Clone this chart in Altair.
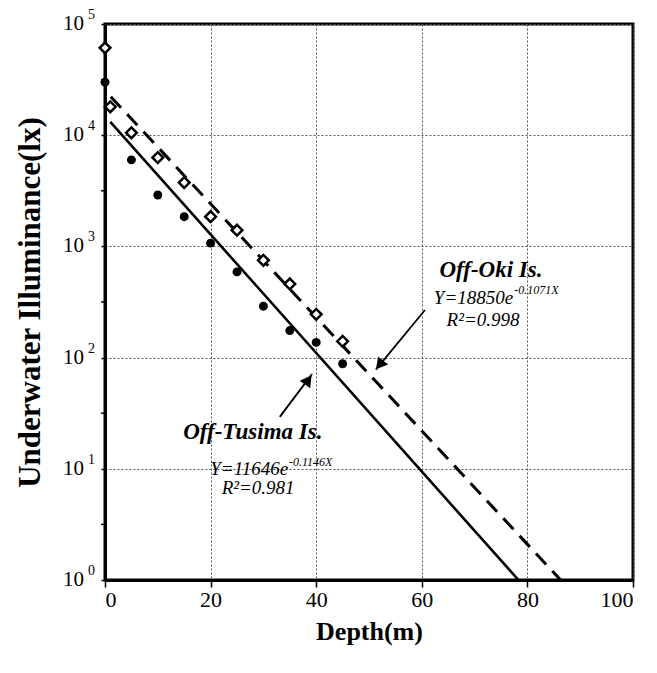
import altair as alt
import pandas as pd

# ---- data ----
tusima_depth = [0, 5, 10, 15, 20, 25, 30, 35, 40, 45]
tusima_lux = [30000, 6000, 2900, 1850, 1070, 590, 290, 175, 137, 88]

oki_depth = [0, 1, 5, 10, 15, 20, 25, 30, 35, 40, 45]
oki_lux = [61000, 18000, 10500, 6300, 3750, 1850, 1400, 750, 460, 245, 140]

tusima_fit_depth = [1.0, 78.3]
tusima_fit_lux = [13200, 1]
oki_fit_depth = [1.1, 86.3]
oki_fit_lux = [22200, 1]

x_ticks = [0, 20, 40, 60, 80, 100]
y_ticks = [1, 10, 100, 1000, 10000, 100000]
y_tick_base = ["10"] * 6
y_tick_exp = ["0", "1", "2", "3", "4", "5"]
y_minor = [3.162, 31.62, 316.2, 3162, 31623]

# annotations (data space)
label_names = ["Off-Oki Is.", "Off-Tusima Is."]
label_depth = [73.1, 28.0]
label_lux = [614, 21.4]

eq_main = ["Y=18850e", "Y=11646e"]
eq_main_depth = [77.3, 34.7]
eq_main_lux = [343.6, 9.95]
eq_sup = ["-0.1071X", "-0.1146X"]
eq_sup_depth = [77.5, 34.85]
eq_sup_lux = [405, 11.5]
r2_text = ["R\u00b2=0.998", "R\u00b2=0.981"]
r2_depth = [71.6, 29.0]
r2_lux = [218, 6.71]

arrow_start_depth = [60.6, 33.1]
arrow_start_lux = [268, 29.3]
arrow_tip_depth = [51.3, 39.2]
arrow_tip_lux = [78, 71]
arrow_head_depth = [52.0, 38.5]
arrow_head_lux = [86, 63]
arrow_head_angle = [219, 36]

SERIF = "Liberation Serif"

tus = pd.DataFrame({"d": tusima_depth, "v": tusima_lux})
oki = pd.DataFrame({"d": oki_depth, "v": oki_lux})
tfit = pd.DataFrame({"d": tusima_fit_depth, "v": tusima_fit_lux})
ofit = pd.DataFrame({"d": oki_fit_depth, "v": oki_fit_lux})
minor = pd.DataFrame({"v": y_minor})
ylab = pd.DataFrame({"v": y_ticks, "b": y_tick_base, "e": y_tick_exp})
labels = pd.DataFrame({"d": label_depth, "v": label_lux, "t": label_names})
eqm = pd.DataFrame({"d": eq_main_depth, "v": eq_main_lux, "t": eq_main})
eqs = pd.DataFrame({"d": eq_sup_depth, "v": eq_sup_lux, "t": eq_sup})
r2 = pd.DataFrame({"d": r2_depth, "v": r2_lux, "t": r2_text})
arr = pd.DataFrame({"d": arrow_start_depth, "v": arrow_start_lux,
                    "d2": arrow_tip_depth, "v2": arrow_tip_lux})
heads = pd.DataFrame({"d": arrow_head_depth, "v": arrow_head_lux, "a": arrow_head_angle})

xs = alt.Scale(domain=[0, 100], nice=False, zero=False)
ys = alt.Scale(type="log", domain=[1, 100000], nice=False)

x_axis = alt.Axis(values=x_ticks, grid=True, gridDash=[2, 2], gridColor="#555",
                  gridWidth=1, domainColor="black", domainWidth=3, tickColor="black",
                  tickSize=7, tickWidth=1.5, labelFont=SERIF, labelFontSize=22,
                  labelColor="black", labelPadding=2, title="Depth(m)",
                  titleFont=SERIF, titleFontSize=26, titleFontWeight="bold",
                  titleColor="black", titlePadding=8)
y_axis = alt.Axis(values=y_ticks, grid=True, gridDash=[2, 2], gridColor="#555",
                  gridWidth=1, domainColor="black", domainWidth=3, tickColor="black",
                  tickSize=4, tickWidth=1.5, labels=False,
                  title="Underwater Illuminance(lx)", titleFont=SERIF,
                  titleFontSize=31, titleFontWeight="bold", titleColor="black",
                  titlePadding=54)


def X(f="d"):
    return alt.X(f"{f}:Q", scale=xs, axis=x_axis)


def Y(f="v"):
    return alt.Y(f"{f}:Q", scale=ys, axis=y_axis)


fit_t = alt.Chart(tfit).mark_line(color="black", strokeWidth=2.6).encode(x=X(), y=Y())
fit_o = alt.Chart(ofit).mark_line(color="black", strokeWidth=3, strokeDash=[15, 9]).encode(
    x=X(), y=Y())
pts_t = alt.Chart(tus).mark_point(shape="circle", filled=True, color="black", size=80,
                                  opacity=1).encode(x=X(), y=Y())
pts_o = alt.Chart(oki).mark_point(shape="diamond", filled=True, fill="white", stroke="black",
                                  strokeWidth=2.5, size=115, opacity=1).encode(x=X(), y=Y())
minor_ticks = alt.Chart(minor).mark_rule(color="black", strokeWidth=1.5).encode(
    x=alt.value(-4), x2=alt.value(0), y=Y())
ylab_base = alt.Chart(ylab).mark_text(font=SERIF, fontSize=21, color="black", align="right",
                                      baseline="middle").encode(
    x=alt.value(-21), y=Y(), text="b:N")
ylab_exp = alt.Chart(ylab).mark_text(font=SERIF, fontSize=14, color="black", align="left",
                                     baseline="middle", dy=-9).encode(
    x=alt.value(-17), y=Y(), text="e:N")

lab = alt.Chart(labels).mark_text(font=SERIF, fontSize=23, fontWeight="bold", fontStyle="italic",
                                  color="black", align="center", baseline="middle").encode(
    x=X(), y=Y(), text="t:N")
eq1 = alt.Chart(eqm).mark_text(font=SERIF, fontSize=19, fontStyle="italic", color="black",
                               align="right", baseline="middle").encode(x=X(), y=Y(), text="t:N")
eq2 = alt.Chart(eqs).mark_text(font=SERIF, fontSize=12, fontStyle="italic", color="black",
                               align="left", baseline="middle").encode(x=X(), y=Y(), text="t:N")
r2t = alt.Chart(r2).mark_text(font=SERIF, fontSize=19, fontStyle="italic", color="black",
                              align="center", baseline="middle").encode(x=X(), y=Y(), text="t:N")
arrows = alt.Chart(arr).mark_rule(color="black", strokeWidth=1.8).encode(
    x=X(), y=Y(), x2="d2:Q", y2="v2:Q")
arrow_heads = alt.Chart(heads).mark_point(shape="triangle-up", filled=True, color="black",
                                          size=170, opacity=1).encode(
    x=X(), y=Y(), angle=alt.Angle("a:Q", scale=None))

chart = alt.layer(fit_t, fit_o, pts_t, pts_o, minor_ticks, ylab_base, ylab_exp, lab, eq1, eq2,
                  r2t, arrows, arrow_heads).properties(
    width=528, height=556,
    padding={"left": 97, "top": 16, "right": 16, "bottom": 85},
    autosize=alt.AutoSizeParams(type="none"),
    background="white",
).configure_view(stroke="black", strokeWidth=3)

chart.save("out.html", embed_options={"renderer": "svg", "actions": False})
